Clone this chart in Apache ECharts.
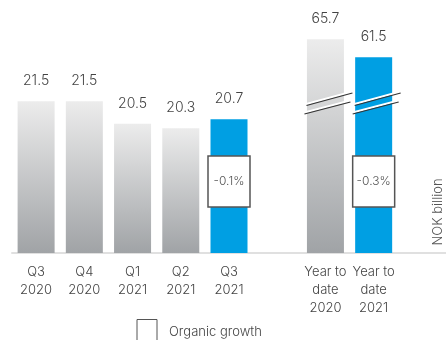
<!DOCTYPE html>
<html>
<head>
<meta charset="utf-8">
<script src="https://cdn.jsdelivr.net/npm/echarts@6/dist/echarts.min.js"></script>
<style>
html,body{margin:0;padding:0;background:#fff;}
#c{width:446px;height:340px;}
</style>
</head>
<body>
<div id="c"></div>
<script>
const categories = ['Q3\n2020', 'Q4\n2020', 'Q1\n2021', 'Q2\n2021', 'Q3\n2021', '', 'Year to\ndate\n2020', 'Year to\ndate\n2021', ''];
const quarterValues = [21.5, 21.5, 20.5, 20.3, 20.7, null, null, null, null];
const ytdValues = [null, null, null, null, null, null, 65.7, 61.5, null];
const highlightIndex = [4, 7];
const growthIndex = [4, 7];
const growthLabels = ['-0.1%', '-0.3%'];
const breakIndex = [6, 7];
const unitLabel = 'NOK billion';
const legendLabel = 'Organic growth';

const FONT = 'Inter, Lato, sans-serif';
const grayGrad = () => new echarts.graphic.LinearGradient(0, 0, 0, 1, [
  {offset: 0, color: '#ececec'}, {offset: 1, color: '#a0a3a6'}
]);
const BLUE = '#009fe3';

function mk(values) {
  return values.map((v, i) => v == null ? '-' : {
    value: v,
    itemStyle: {color: highlightIndex.includes(i) ? BLUE : grayGrad()}
  });
}

const labelCfg = {
  show: true, position: 'top', distance: 13,
  fontFamily: FONT, fontSize: 14, fontWeight: 300, color: '#444',
  formatter: p => p.value.toFixed(1)
};

const chart = echarts.init(document.getElementById('c'), null, {renderer: 'canvas'});
chart.setOption({
  animation: false,
  grid: {left: 12, right: 0, top: 20, bottom: 87, containLabel: false},
  xAxis: {
    type: 'category', data: categories,
    axisLine: {show: true, lineStyle: {color: '#e0e0e0', width: 2}},
    axisTick: {show: false},
    axisLabel: {interval: 0, margin: 10, fontFamily: FONT, fontSize: 13, fontWeight: 300, lineHeight: 18, color: '#444'}
  },
  yAxis: [
    {type: 'value', min: 14.75, max: 25.11, show: false, splitLine: {show: false}},
    {type: 'value', min: 15.84, max: 70.2, show: false, splitLine: {show: false}}
  ],
  series: [
    {type: 'bar', yAxisIndex: 0, data: mk(quarterValues), barWidth: 37, barGap: '-100%', label: labelCfg},
    {type: 'bar', yAxisIndex: 1, data: mk(ytdValues), barWidth: 37, barGap: '-100%', label: labelCfg}
  ]
});

const elements = [];
growthIndex.forEach((ci, k) => {
  const cx = chart.convertToPixel({xAxisIndex: 0}, ci);
  elements.push({
    type: 'rect', shape: {x: cx - 21, y: 156, width: 42, height: 51},
    style: {fill: '#fff', stroke: '#555', lineWidth: 1.5}, z: 10
  });
  elements.push({
    type: 'text', x: cx, y: 181.5,
    style: {text: growthLabels[k], fill: '#555', font: '300 12px ' + FONT, align: 'center', verticalAlign: 'middle'}, z: 11
  });
});
breakIndex.forEach(ci => {
  const cx = chart.convertToPixel({xAxisIndex: 0}, ci);
  [[-19, 105.5, 27, 93], [-21, 114, 25, 102]].forEach(([x1, y1, x2, y2]) => {
    elements.push({type: 'line', shape: {x1: cx + x1, y1: y1 - 1.5, x2: cx + x2, y2: y2 - 1.5}, style: {stroke: '#fff', lineWidth: 2}, z: 10});
    elements.push({type: 'line', shape: {x1: cx + x1, y1: y1, x2: cx + x2, y2: y2}, style: {stroke: '#333', lineWidth: 1.2}, z: 11});
  });
});
elements.push({
  type: 'text', x: 438, y: 212, rotation: Math.PI / 2,
  style: {text: unitLabel, fill: '#555', font: '300 13px ' + FONT, align: 'center', verticalAlign: 'middle'}
});
elements.push({
  type: 'rect', shape: {x: 137, y: 319.5, width: 20, height: 25},
  style: {fill: '#fff', stroke: '#555', lineWidth: 1}
});
elements.push({
  type: 'text', x: 169, y: 332,
  style: {text: legendLabel, fill: '#444', font: '300 13px ' + FONT, align: 'left', verticalAlign: 'middle'}
});
chart.setOption({graphic: {elements}});
</script>
</body>
</html>
